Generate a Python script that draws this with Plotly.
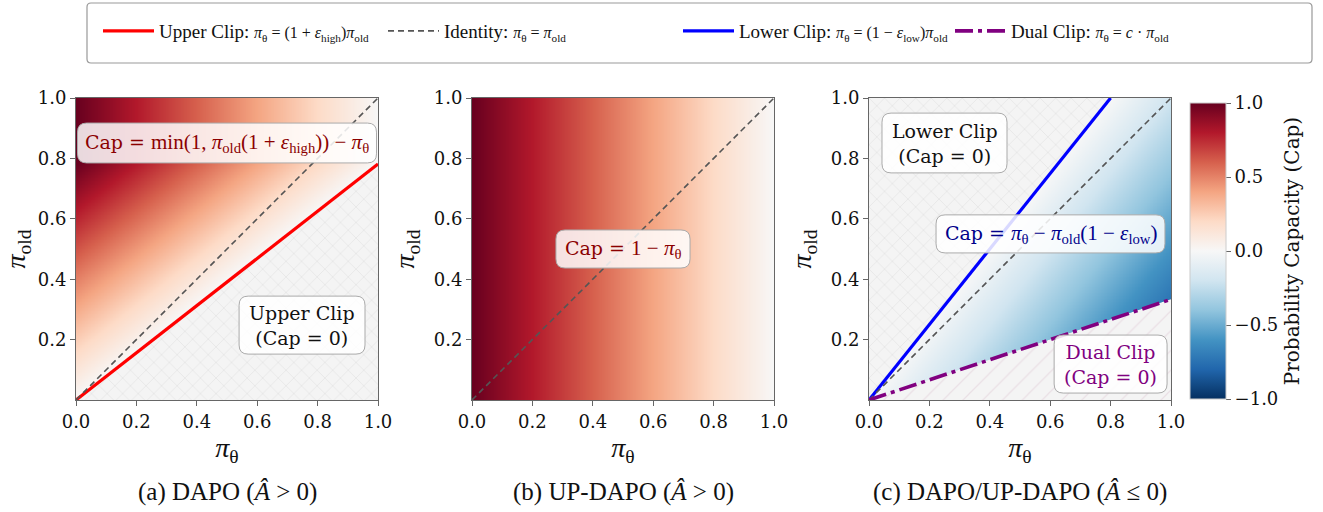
import numpy as np
import plotly.graph_objects as go

# ---- parameters ----
eps_high = 0.28      # upper clip: pi_old = pi_theta / (1 + eps_high) -> (1, 0.78)
eps_low = 0.20       # lower clip: pi_old = pi_theta / (1 - eps_low) -> (0.8, 1)
c_dual = 3.0         # dual clip: pi_old = pi_theta / c -> (1, 0.33)

ticks_x = [0.0, 0.2, 0.4, 0.6, 0.8, 1.0]
ticks_y = [0.2, 0.4, 0.6, 0.8, 1.0]
cbar_ticks = [-1.0, -0.5, 0.0, 0.5, 1.0]
captions = ["(a) DAPO (<i>Â</i> > 0)", "(b) UP-DAPO (<i>Â</i> > 0)", "(c) DAPO/UP-DAPO (<i>Â</i> ≤ 0)"]

# RdBu_r (matplotlib / ColorBrewer)
rdbu = ["#053061", "#2166ac", "#4393c3", "#92c5de", "#d1e5f0", "#f7f7f7",
        "#fddbc7", "#f4a582", "#d6604d", "#b2182b", "#67001f"]
cscale = [[i / 10, col] for i, col in enumerate(rdbu)]

N = 401
g = np.linspace(0, 1, N)
PT, PO = np.meshgrid(g, g)   # x = pi_theta, y = pi_old

# panel a
za = np.minimum(1.0, PO * (1 + eps_high)) - PT
za = np.where(PO * (1 + eps_high) >= PT, za, np.nan)
# panel b
zb = 1.0 - PT
# panel c
zc = PO * (1 - eps_low) - PT
zc = np.where((PO * (1 - eps_low) <= PT) & (PO * c_dual >= PT), zc, np.nan)

SERIF = "DejaVu Serif"
LEG = "Liberation Serif"

def m(s, size=21):
    return f"<span style='font-family:Liberation Serif;font-size:{size}px'>{s}</span>"

fig = go.Figure()

doms = [[76 / 1323, 378 / 1323], [472 / 1323, 774 / 1323], [869 / 1323, 1171 / 1323]]
ydom = [1 - 400 / 512, 1 - 98 / 512]
axn = ["", "2", "3"]

for k, z in enumerate([za, zb, zc]):
    fig.add_trace(go.Heatmap(x=g, y=g, z=z, coloraxis="coloraxis", xaxis="x" + axn[k],
                             yaxis="y" + axn[k], hoverinfo="skip", zsmooth=False))

hatch_x = dict(shape="x", bgcolor="#f4f4f4", fgcolor="#d0d0d0", size=11, solidity=0.12)
hatch_s = dict(shape="/", bgcolor="#f4f4f4", fgcolor="#e0cbd6", size=14, solidity=0.09)

def poly(xs, ys, ax, patt):
    fig.add_trace(go.Scatter(x=xs, y=ys, fill="toself", fillcolor="#f4f4f4", fillpattern=patt,
                             mode="lines", line=dict(width=0), showlegend=False,
                             hoverinfo="skip", xaxis="x" + ax, yaxis="y" + ax))

# hatched clipped regions
poly([0, 1, 1, 0], [0, 1 / (1 + eps_high), 0, 0], "", hatch_x)
poly([0, 1 - eps_low, 0, 0], [0, 1, 1, 0], "3", hatch_x)
poly([0, 1, 1, 0], [0, 1 / c_dual, 0, 0], "3", hatch_s)

MS = 16  # legend math size
lx = np.array([0.0, 1.0])
ident = dict(color="#555555", width=1.6, dash="6px,4px")
# panel a
fig.add_trace(go.Scatter(x=lx, y=lx / (1 + eps_high), mode="lines", line=dict(color="#ff0000", width=3.2),
                         name="Upper Clip: " + m("<i>π</i><sub>θ</sub> = (1 + <i>ε</i><sub>high</sub>)<i>π</i><sub>old</sub>", MS),
                         xaxis="x", yaxis="y", hoverinfo="skip", legend="legend"))
fig.add_trace(go.Scatter(x=lx, y=lx, mode="lines", line=ident,
                         name="Identity: " + m("<i>π</i><sub>θ</sub> = <i>π</i><sub>old</sub>", MS),
                         xaxis="x", yaxis="y", hoverinfo="skip", legend="legend2"))
# panel b
fig.add_trace(go.Scatter(x=lx, y=lx, mode="lines", line=ident, showlegend=False,
                         xaxis="x2", yaxis="y2", hoverinfo="skip"))
# panel c
lxl = np.array([0.0, 1 - eps_low])
fig.add_trace(go.Scatter(x=lxl, y=lxl / (1 - eps_low), mode="lines", line=dict(color="#0000ff", width=3.2),
                         name="Lower Clip: " + m("<i>π</i><sub>θ</sub> = (1 − <i>ε</i><sub>low</sub>)<i>π</i><sub>old</sub>", MS),
                         xaxis="x3", yaxis="y3", hoverinfo="skip", legend="legend3"))
fig.add_trace(go.Scatter(x=lx, y=lx, mode="lines", line=ident, showlegend=False,
                         xaxis="x3", yaxis="y3", hoverinfo="skip"))
fig.add_trace(go.Scatter(x=lx, y=lx / c_dual, mode="lines",
                         line=dict(color="#800080", width=3.6, dash="18px,5px,4px,5px"),
                         name="Dual Clip: " + m("<i>π</i><sub>θ</sub> = <i>c</i> · <i>π</i><sub>old</sub>", MS),
                         xaxis="x3", yaxis="y3", hoverinfo="skip", legend="legend4"))

axis_common = dict(range=[0, 1], showline=True, mirror=True, linecolor="#666666", linewidth=1,
                   ticks="outside", ticklen=5, tickcolor="#666666", showgrid=False, zeroline=False,
                   automargin=False,
                   tickfont=dict(family=SERIF, size=18, color="#111111"), tickformat=".1f")

def leg(px):
    return dict(orientation="h", x=(px - 5) / 1323, xanchor="left", y=1 - 31 / 512, yanchor="middle",
                font=dict(family=LEG, size=19, color="#111111"), bgcolor="rgba(0,0,0,0)",
                itemwidth=51)

layout = dict(
    width=1323, height=512, margin=dict(l=0, r=0, t=0, b=0, autoexpand=False),
    paper_bgcolor="white", plot_bgcolor="white",
    coloraxis=dict(colorscale=cscale, cmin=-1, cmax=1,
                   colorbar=dict(x=1190 / 1323, xanchor="left", xpad=0, ypad=0, thickness=36,
                                 lenmode="pixels", len=296, y=1 - 251 / 512, yanchor="middle",
                                 tickvals=cbar_ticks, tickformat=".1f", ticks="outside", ticklen=5,
                                 tickcolor="#666666", outlinewidth=1, outlinecolor="#cccccc",
                                 tickfont=dict(family=SERIF, size=18, color="#111111"),
                                 title=dict(text="Probability Capacity (Cap)", side="right",
                                            font=dict(family=SERIF, size=20, color="#111111")))),
    showlegend=True,
    legend=leg(103), legend2=leg(388), legend3=leg(683), legend4=leg(955),
)
for k in range(3):
    layout["xaxis" + axn[k]] = dict(axis_common, domain=doms[k], anchor="y" + axn[k], tickvals=ticks_x,
                                    title=dict(text="<i>π</i><sub>θ</sub>", standoff=6,
                                               font=dict(family=LEG, size=28, color="#111111")))
    layout["yaxis" + axn[k]] = dict(axis_common, domain=ydom, anchor="x" + axn[k], tickvals=ticks_y,
                                    title=dict(text="<i>π</i><sub>old</sub>", standoff=10,
                                               font=dict(family=LEG, size=28, color="#111111")))
fig.update_layout(**layout)

# legend frame (rounded)
def rrect(x0, y0, x1, y1, rx, ry):
    return (f"M{x0+rx},{y0} L{x1-rx},{y0} Q{x1},{y0} {x1},{y0+ry} L{x1},{y1-ry} Q{x1},{y1} {x1-rx},{y1} "
            f"L{x0+rx},{y1} Q{x0},{y1} {x0},{y1-ry} L{x0},{y0+ry} Q{x0},{y0} {x0+rx},{y0} Z")

fig.add_shape(type="path", xref="paper", yref="paper",
              path=rrect(87 / 1323, 1 - 63 / 512, 1312 / 1323, 1 - 3 / 512, 4 / 1323, 4 / 512),
              line=dict(color="#999999", width=1.2), fillcolor="white", layer="below")

# annotation boxes (data coords)
boxes = [
    ("", 0.005, 0.785, 0.995, 0.917,
     "Cap = " + m("min(1, <i>π</i><sub>old</sub>(1 + <i>ε</i><sub>high</sub>)) − <i>π</i><sub>θ</sub>"), "#8b0000"),
    ("", 0.54, 0.152, 0.957, 0.344, "Upper Clip<br>(Cap = 0)", "#111111"),
    ("2", 0.278, 0.437, 0.722, 0.563, "Cap = " + m("1 − <i>π</i><sub>θ</sub>"), "#8b0000"),
    ("3", 0.043, 0.752, 0.457, 0.95, "Lower Clip<br>(Cap = 0)", "#111111"),
    ("3", 0.222, 0.487, 0.98, 0.613,
     "Cap = " + m("<i>π</i><sub>θ</sub> − <i>π</i><sub>old</sub>(1 − <i>ε</i><sub>low</sub>)"), "#00008b"),
    ("3", 0.613, 0.023, 0.987, 0.215, "Dual Clip<br>(Cap = 0)", "#800080"),
]
for ax, x0, y0, x1, y1, txt, col in boxes:
    fig.add_shape(type="path", xref="x" + ax, yref="y" + ax, path=rrect(x0, y0, x1, y1, 0.03, 0.03),
                  line=dict(color="#aaaaaa", width=1), fillcolor="rgba(255,255,255,0.85)", layer="above")
    fig.add_annotation(xref="x" + ax, yref="y" + ax, x=(x0 + x1) / 2, y=(y0 + y1) / 2, text=txt,
                       showarrow=False, xanchor="center", yanchor="middle",
                       font=dict(family=SERIF, size=19, color=col), align="center")

for k, cap in enumerate(captions):
    fig.add_annotation(xref="paper", yref="paper", x=(doms[k][0] + doms[k][1]) / 2, y=1 - 492 / 512,
                       text=cap, showarrow=False, xanchor="center", yanchor="middle",
                       font=dict(family=LEG, size=25, color="#111111"))

fig.write_html("out.html", config={"displayModeBar": False},
               post_script="document.body.style.margin='0';document.body.style.overflow='hidden';")
